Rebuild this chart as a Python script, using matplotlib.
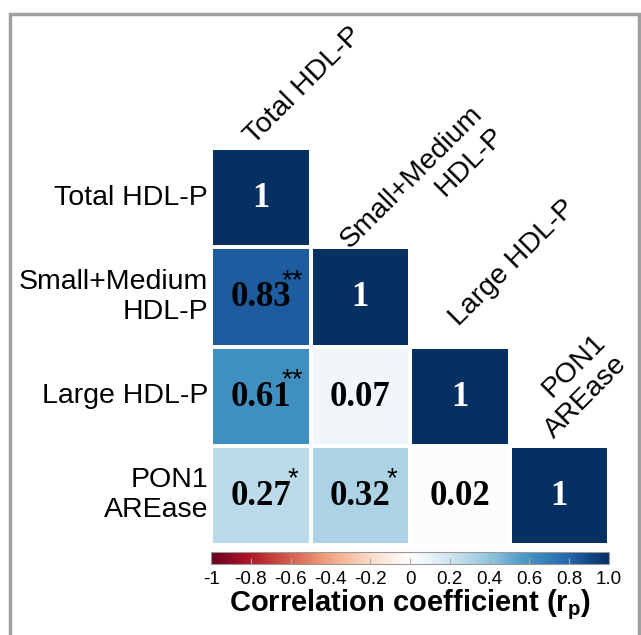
import numpy as np
import matplotlib
matplotlib.use('Agg')
import matplotlib.pyplot as plt
from matplotlib.colors import LinearSegmentedColormap, Normalize
from matplotlib.patches import Rectangle
import matplotlib.cm as cm

labels = ['Total HDL-P', 'Small+Medium\nHDL-P', 'Large HDL-P', 'PON1\nAREase']
r_values = np.array([
    [1.00, np.nan, np.nan, np.nan],
    [0.83, 1.00, np.nan, np.nan],
    [0.61, 0.07, 1.00, np.nan],
    [0.27, 0.32, 0.02, 1.00],
])
stars = [
    ['', '', '', ''],
    ['**', '', '', ''],
    ['**', '', '', ''],
    ['*', '*', '', ''],
]
cbar_ticks = [-1, -0.8, -0.6, -0.4, -0.2, 0, 0.2, 0.4, 0.6, 0.8, 1.0]
cbar_ticklabels = ['-1', '-0.8', '-0.6', '-0.4', '-0.2', '0', '0.2', '0.4', '0.6', '0.8', '1.0']

# corrplot style RdBu
rdbu = LinearSegmentedColormap.from_list('rdbu', ["#67001F", "#B2182B", "#D6604D", "#F4A582", "#FDDBC7",
                                                  "#FFFFFF", "#D1E5F0", "#92C5DE", "#4393C3", "#2166AC", "#053061"])
norm = Normalize(-1, 1)

sans = 'Liberation Sans'
serif = 'Liberation Serif'

fig = plt.figure(figsize=(6.41, 6.35), dpi=100)
W, H = 641, 635

ax = fig.add_axes([211 / W, 1 - 545 / H, 398 / W, 397 / H])
n = len(labels)
masked = np.ma.masked_invalid(r_values)
ax.pcolormesh(np.arange(n + 1) - 0.5, np.arange(n + 1) - 0.5, masked, cmap=rdbu, norm=norm,
              edgecolors='white', linewidth=1.5)
ax.set_xlim(-0.5, n - 0.5)
ax.set_ylim(n - 0.5, -0.5)
ax.axis('off')

for i in range(n):
    for j in range(i + 1):
        v = r_values[i, j]
        txt = '1' if i == j else f'{v:.2f}'
        col = 'white' if abs(v) > 0.9 else 'black'
        ax.text(j, i + 0.01, txt, ha='center', va='center', fontsize=25, fontweight='bold',
                family=serif, color=col)
        if stars[i][j]:
            ax.text(j + 0.32, i - 0.16, stars[i][j], ha='center', va='center', fontsize=20,
                    family=sans, color='black')

# row labels
for i, lab in enumerate(labels):
    ax.text(-0.53, i, lab, ha='right', va='center', fontsize=20.5, family=sans,
            multialignment='right', clip_on=False)

# column labels along diagonal (anchor = baseline of last line)
col_offsets = [(-0.07, -0.03), (0.08, 0.20), (-0.01, -0.20), (-0.08, -0.10)]
for j, lab in enumerate(labels):
    dx, dy = col_offsets[j]
    ax.text(j + dx, j - 0.5 + dy, lab, rotation=45, rotation_mode='anchor', ha='left',
            va='baseline', fontsize=20.5, family=sans, multialignment='right', clip_on=False)

# colorbar
cax = fig.add_axes([211 / W, 1 - 564 / H, 398 / W, 12 / H])
sm = cm.ScalarMappable(norm=norm, cmap=rdbu)
cb = fig.colorbar(sm, cax=cax, orientation='horizontal')
cb.set_ticks(cbar_ticks)
cb.set_ticklabels(cbar_ticklabels)
cb.outline.set_edgecolor('#999999')
cb.outline.set_linewidth(0.8)
cax.tick_params(axis='x', direction='in', length=4, color='#aaaaaa', labelsize=13.5, pad=5)
for t in cax.get_xticklabels():
    t.set_family(sans)
fig.text(410 / W, 1 - 605 / H, 'Correlation coefficient (r$_\\mathregular{p}$)', ha='center',
         va='center', fontsize=21, fontweight='bold', family=sans)

# outer frame
fig.patches.append(Rectangle((10 / W, -0.05), 629 / W, 1.05 - 14 / H, transform=fig.transFigure,
                             fill=False, edgecolor='#a0a0a0', linewidth=2.5))

fig.savefig('out.png', dpi=100)
